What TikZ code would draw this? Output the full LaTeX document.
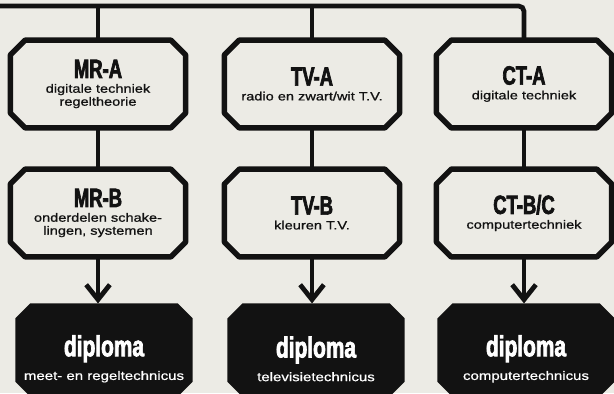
\documentclass[tikz,border=0pt]{standalone}
\usepackage{fontspec}
\setmainfont{Liberation Sans}
\newfontfamily\ttlfont[FakeStretch=0.7,BoldFeatures={FakeBold=2.5}]{Liberation Sans}
\newfontfamily\dplfont[FakeStretch=0.72,BoldFeatures={FakeBold=2.5}]{Liberation Sans}
\newfontfamily\subfont[FakeStretch=1.22,FakeBold=0.9]{Liberation Sans}
\usetikzlibrary{arrows.meta}
\definecolor{paper}{RGB}{236,235,229}
\definecolor{ink}{RGB}{18,18,18}
\pgfdeclarelayer{bg}
\pgfsetlayers{bg,main}
\def\ch{8.5pt}
\newcommand\chbox[2]{%
  \draw[#2] ([xshift=\ch]#1.north west) -- ([xshift=-\ch]#1.north east)
    -- ([yshift=-\ch]#1.north east) -- ([yshift=\ch]#1.south east)
    -- ([xshift=-\ch]#1.south east) -- ([xshift=\ch]#1.south west)
    -- ([yshift=\ch]#1.south west) -- ([yshift=-\ch]#1.north west) -- cycle;}
\newcommand\ttl[1]{{\ttlfont\bfseries\fontsize{15}{15}\selectfont #1}}
\newcommand\dpl[1]{{\dplfont\bfseries\fontsize{16.5}{16.5}\selectfont\rule{0pt}{22pt}#1}}
\begin{document}
\begin{tikzpicture}[x=0.02cm, y=-0.02cm,
  course/.style={rectangle, inner sep=0pt, outer sep=0pt, minimum width=99.8pt,
    minimum height=50pt, align=center, text=ink,
    font=\subfont\fontsize{6.8}{7.4}\selectfont},
  diplbox/.style={course, minimum width=100.9pt, minimum height=53pt, text=white,
    font=\subfont\fontsize{7}{7.5}\selectfont},
  frame/.style={draw=ink, line width=3.1pt, line join=round},
  darkframe/.style={fill=ink, draw=none},
  conn/.style={draw=ink, line width=2.7pt},
  arr/.style={conn, -{Straight Barb[length=8.5pt, width=13.5pt]}}]
\useasboundingbox (0,0) rectangle (614,393);
% course boxes
\node[course] (mra) at (98,84) {\ttl{MR-A}\\[1pt] digitale techniek\\ regeltheorie};
\node[course] (tva) at (312,84) {\ttl{TV-A}\\[1pt] radio en zwart/wit T.V.};
\node[course] (cta) at (524,84) {\ttl{CT-A}\\[1pt] digitale techniek};
\node[course] (mrb) at (98,213) {\ttl{MR-B}\\[1pt] onderdelen schake-\\ lingen, systemen};
\node[course] (tvb) at (312,213) {\ttl{TV-B}\\[1pt] kleuren T.V.};
\node[course] (ctb) at (524,213) {\ttl{CT-B/C}\\[1pt] computertechniek};
% diploma boxes
\node[diplbox] (mrd) at (104,350) {\dpl{diploma}\\[4pt] meet- en regeltechnicus};
\node[diplbox] (tvd) at (316,350) {\dpl{diploma}\\[4pt] televisietechnicus};
\node[diplbox] (ctd) at (526,350) {\dpl{diploma}\\[4pt] computertechnicus};
\begin{pgfonlayer}{bg}
  \fill[paper] (0,0) rectangle (614,393);
  \foreach \n in {mra,tva,cta,mrb,tvb,ctb} {\chbox{\n}{frame}}
  \foreach \n in {mrd,tvd,ctd} {\chbox{\n}{darkframe}}
\end{pgfonlayer}
% top bus
\coordinate (busL) at (0,6);
\coordinate (busR) at (cta.north |- busL);
\draw[conn, rounded corners=3pt] (busL) -- (busR) -- (cta.north);
\draw[conn] (mra.north |- busL) -- (mra.north);
\draw[conn] (tva.north |- busL) -- (tva.north);
% A to B
\draw[conn] (mra.south) -- (mrb.north);
\draw[conn] (tva.south) -- (tvb.north);
\draw[conn] (cta.south) -- (ctb.north);
% B to diploma
\draw[arr] (mrb.south) -- (mrb.south |- mrd.north);
\draw[arr] (tvb.south) -- (tvb.south |- tvd.north);
\draw[arr] (ctb.south) -- (ctb.south |- ctd.north);
\end{tikzpicture}
\end{document}
